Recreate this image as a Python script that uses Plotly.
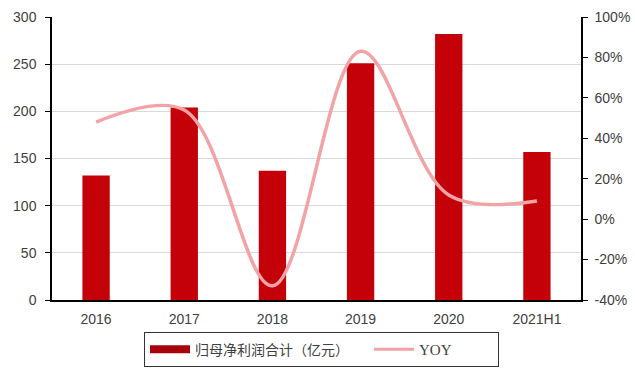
import plotly.graph_objects as go

categories = ["2016", "2017", "2018", "2019", "2020", "2021H1"]
net_profit = [132, 204, 137, 251, 282, 157]      # 归母净利润合计（亿元）
yoy = [48, 54, -33, 83, 12, 9]                   # YOY, %

left_ticks = [0, 50, 100, 150, 200, 250, 300]
right_ticks = [-40, -20, 0, 20, 40, 60, 80, 100]
right_tick_text = [f"{v}%" for v in right_ticks]

BAR_COLOR = "#C40008"
LINE_COLOR = "#F2A3A5"
TICK_FONT = dict(family="Liberation Sans, Arial", size=14, color="#404040")

fig = go.Figure()

fig.add_trace(go.Bar(
    x=categories, y=net_profit, name="归母净利润合计（亿元）",
    marker=dict(color=BAR_COLOR, line=dict(width=0)),
    showlegend=False, yaxis="y",
))
fig.add_trace(go.Scatter(
    x=categories, y=yoy, name="YOY", mode="lines",
    line=dict(color=LINE_COLOR, width=3.5, shape="spline", smoothing=1.0),
    showlegend=False, yaxis="y2",
))

# legend entries
fig.add_trace(go.Scatter(
    x=[None], y=[None], mode="lines",
    name="<span style='font-family:Noto Sans CJK SC;font-size:14px'>归母净利润合计（亿元）</span>"
         + "\u00a0" * 4,
    line=dict(color="#A8000C", width=8),
))
fig.add_trace(go.Scatter(
    x=[None], y=[None], mode="lines", name="YOY" + "\u00a0" * 11,
    line=dict(color=LINE_COLOR, width=3),
))

fig.update_layout(
    width=635, height=370,
    margin=dict(l=52, r=54, t=17, b=70, autoexpand=False),
    paper_bgcolor="white", plot_bgcolor="white",
    bargap=0.69,
    font=TICK_FONT,
    xaxis=dict(
        type="category", showline=True, linecolor="#000000", linewidth=1.5,
        ticks="", showgrid=False, tickfont=TICK_FONT, ticklabelstandoff=5,
        automargin=False,
    ),
    yaxis=dict(
        range=[0, 300], tickvals=left_ticks, showline=True, linecolor="#000000",
        linewidth=1.5, ticks="outside", ticklen=5, tickcolor="#000000",
        showgrid=True, gridcolor="#D9D9D9", gridwidth=1, zeroline=False,
        tickfont=TICK_FONT, ticklabelstandoff=6, automargin=False,
    ),
    yaxis2=dict(
        range=[-40, 100], tickvals=right_ticks, ticktext=right_tick_text,
        overlaying="y", side="right", showline=True, linecolor="#000000",
        linewidth=1.5, ticks="outside", ticklen=5, tickcolor="#000000",
        showgrid=False, zeroline=False, tickfont=TICK_FONT, ticklabelstandoff=4,
        automargin=False,
    ),
    legend=dict(
        orientation="h", x=(144 - 52) / 529, xanchor="left",
        y=(300 - 367) / 283, yanchor="bottom",
        bordercolor="#333333", borderwidth=1, bgcolor="white",
        font=dict(family="Liberation Serif, Noto Sans CJK SC", size=15, color="#404040"),
        itemwidth=40, tracegroupgap=0,
    ),
)

fig.write_html("out.html")
